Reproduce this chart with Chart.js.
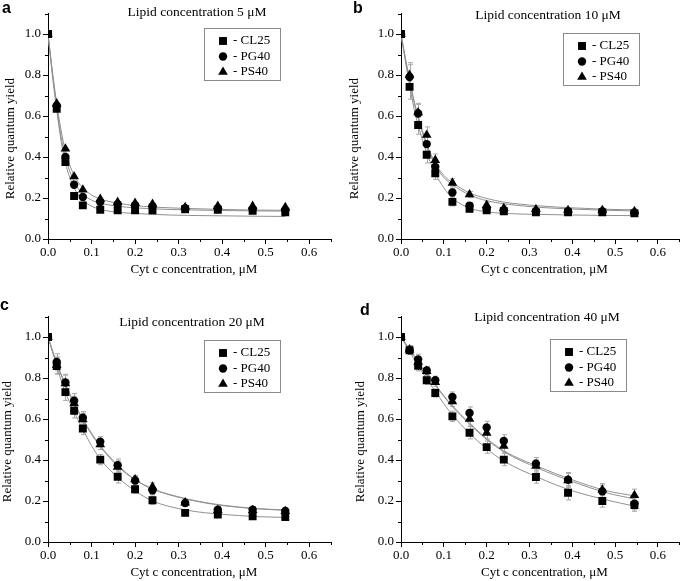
<!DOCTYPE html>
<html><head><meta charset="utf-8">
<script src="https://cdn.jsdelivr.net/npm/chart.js@4.4.0/dist/chart.umd.min.js"></script>
<style>
html,body{margin:0;padding:0;background:#fff;overflow:hidden;width:685px;height:581px}
canvas{position:absolute}
</style></head><body>
<canvas id="pa" width="342" height="290" style="left:0px;top:0px"></canvas>
<canvas id="pb" width="343" height="290" style="left:342px;top:0px"></canvas>
<canvas id="pc" width="342" height="292" style="left:0px;top:290px"></canvas>
<canvas id="pd" width="343" height="292" style="left:342px;top:290px"></canvas>
<script>
// ---------- data ----------
const cytC = [0, 0.02, 0.04, 0.06, 0.08, 0.12, 0.16, 0.20, 0.24, 0.315, 0.39, 0.47, 0.545];
const fitX = [0, 0.01, 0.02, 0.03, 0.04, 0.06, 0.08, 0.10, 0.12, 0.16, 0.20, 0.24, 0.32, 0.40, 0.48, 0.545];
const seriesNames = ['- CL25', '- PG40', '- PS40'];
const panelLetters = ['a', 'b', 'c', 'd'];
const panelTitles = ['Lipid concentration 5 \u03bcM', 'Lipid concentration 10 \u03bcM', 'Lipid concentration 20 \u03bcM', 'Lipid concentration 40 \u03bcM'];
const xAxisTitle = 'Cyt c concentration, \u03bcM';
const yAxisTitle = 'Relative quantum yield';
const xTickValues = [0, 0.1, 0.2, 0.3, 0.4, 0.5, 0.6];
const yTickValues = [0, 0.2, 0.4, 0.6, 0.8, 1.0];
const xMinorValues = [0.05, 0.15, 0.25, 0.35, 0.45, 0.55, 0.65];
const yMinorValues = [0.1, 0.3, 0.5, 0.7, 0.9, 1.1];

// Panel a: lipid 5 uM
const cl25_5 = [1.0, 0.635, 0.376, 0.21, 0.164, 0.143, 0.14, 0.14, 0.14, 0.145, 0.142, 0.138, 0.13];
const pg40_5 = [1.0, 0.65, 0.40, 0.265, 0.205, 0.18, 0.17, 0.165, 0.16, 0.15, 0.15, 0.146, 0.14];
const ps40_5 = [1.0, 0.66, 0.44, 0.305, 0.24, 0.195, 0.18, 0.175, 0.17, 0.155, 0.16, 0.16, 0.155];
const fitCL_5 = [1.0, 0.80, 0.63, 0.48, 0.37, 0.25, 0.19, 0.16, 0.145, 0.13, 0.125, 0.12, 0.115, 0.113, 0.111, 0.11];
const fitPG_5 = [1.0, 0.81, 0.645, 0.50, 0.40, 0.28, 0.22, 0.19, 0.175, 0.16, 0.152, 0.147, 0.142, 0.139, 0.137, 0.136];
const fitPS_5 = [1.0, 0.82, 0.66, 0.53, 0.43, 0.31, 0.25, 0.215, 0.195, 0.175, 0.163, 0.156, 0.149, 0.144, 0.141, 0.14];
const err_5 = [0, 0, 0, 0, 0, 0, 0, 0, 0, 0, 0, 0, 0];

// Panel b: lipid 10 uM
const cl25_10 = [1.0, 0.742, 0.556, 0.411, 0.321, 0.181, 0.147, 0.14, 0.135, 0.13, 0.13, 0.13, 0.125];
const pg40_10 = [1.0, 0.79, 0.612, 0.463, 0.352, 0.227, 0.163, 0.147, 0.14, 0.135, 0.135, 0.135, 0.13];
const ps40_10 = [1.0, 0.80, 0.617, 0.507, 0.385, 0.274, 0.217, 0.165, 0.15, 0.145, 0.14, 0.14, 0.135];
const fitCL_10 = [1.0, 0.87, 0.75, 0.64, 0.555, 0.42, 0.32, 0.25, 0.20, 0.15, 0.133, 0.125, 0.12, 0.117, 0.115, 0.114];
const fitPG_10 = [1.0, 0.88, 0.77, 0.67, 0.59, 0.455, 0.36, 0.30, 0.265, 0.215, 0.187, 0.172, 0.155, 0.146, 0.14, 0.137];
const fitPS_10 = [1.0, 0.885, 0.78, 0.68, 0.60, 0.465, 0.37, 0.31, 0.275, 0.225, 0.198, 0.18, 0.162, 0.152, 0.145, 0.142];
const err_10 = [0, 0.06, 0.045, 0.04, 0.03, 0.02, 0.015, 0.015, 0.015, 0.01, 0.01, 0.01, 0.01];

// Panel c: lipid 20 uM
const cl25_20 = [1.0, 0.858, 0.731, 0.64, 0.554, 0.402, 0.318, 0.257, 0.204, 0.142, 0.134, 0.125, 0.122];
const pg40_20 = [1.0, 0.878, 0.778, 0.689, 0.606, 0.489, 0.375, 0.30, 0.252, 0.19, 0.158, 0.158, 0.151];
const ps40_20 = [1.0, 0.863, 0.774, 0.676, 0.598, 0.476, 0.366, 0.305, 0.269, 0.192, 0.155, 0.155, 0.15];
const fitCL_20 = [1.0, 0.93, 0.86, 0.79, 0.73, 0.635, 0.55, 0.47, 0.405, 0.315, 0.25, 0.20, 0.155, 0.135, 0.124, 0.12];
const fitPG_20 = [1.0, 0.935, 0.875, 0.82, 0.77, 0.68, 0.60, 0.53, 0.47, 0.375, 0.305, 0.26, 0.21, 0.18, 0.163, 0.156];
const fitPS_20 = [1.0, 0.935, 0.87, 0.815, 0.765, 0.675, 0.595, 0.525, 0.465, 0.37, 0.303, 0.258, 0.208, 0.178, 0.162, 0.155];
const err_20 = [0, 0.04, 0.04, 0.035, 0.03, 0.025, 0.03, 0.02, 0.02, 0.015, 0.015, 0.015, 0.015];

// Panel d: lipid 40 uM
const cl25_40 = [1.0, 0.935, 0.86, 0.789, 0.727, 0.613, 0.533, 0.463, 0.402, 0.317, 0.24, 0.20, 0.18];
const pg40_40 = [1.0, 0.935, 0.891, 0.837, 0.789, 0.707, 0.629, 0.559, 0.493, 0.382, 0.304, 0.247, 0.187];
const ps40_40 = [1.0, 0.938, 0.878, 0.833, 0.78, 0.686, 0.60, 0.532, 0.468, 0.371, 0.30, 0.255, 0.228];
const fitCL_40 = [1.0, 0.965, 0.93, 0.895, 0.86, 0.795, 0.735, 0.675, 0.62, 0.53, 0.455, 0.395, 0.315, 0.25, 0.205, 0.175];
const fitPG_40 = [1.0, 0.97, 0.94, 0.91, 0.875, 0.82, 0.765, 0.71, 0.66, 0.575, 0.50, 0.44, 0.36, 0.295, 0.24, 0.21];
const fitPS_40 = [1.0, 0.97, 0.94, 0.91, 0.877, 0.822, 0.768, 0.713, 0.665, 0.58, 0.505, 0.445, 0.368, 0.303, 0.25, 0.225];
const err_40 = [0, 0.02, 0.025, 0.02, 0.02, 0.025, 0.03, 0.03, 0.03, 0.03, 0.035, 0.03, 0.03];

// ---------- styling / layout ----------
const SERIF = "'Liberation Serif', 'Times New Roman', serif";
const markerStyles = [
  {pointStyle: 'rect', radius: 5.6},
  {pointStyle: 'circle', radius: 4.2},
  {pointStyle: 'triangle', radius: 5.6}
];
const panels = [
  {canvas: 'pa', series: [cl25_5, pg40_5, ps40_5], fits: [fitCL_5, fitPG_5, fitPS_5], err: err_5,
   axisLeft: 48, pad: {left: 0, right: 11, top: 13.5, bottom: 11},
   letter: [2, 9], title: [197, 12], yTitleX: 11, legend: [204, 28]},
  {canvas: 'pb', series: [cl25_10, pg40_10, ps40_10], fits: [fitCL_10, fitPG_10, fitPS_10], err: err_10,
   axisLeft: 59, pad: {left: 0, right: 2, top: 13.5, bottom: 11},
   letter: [11, 9], title: [206, 15], yTitleX: 13, legend: [221, 33]},
  {canvas: 'pc', series: [cl25_20, pg40_20, ps40_20], fits: [fitCL_20, fitPG_20, fitPS_20], err: err_20,
   axisLeft: 48, pad: {left: 0, right: 11, top: 26.5, bottom: 0},
   letter: [0, 16], title: [192, 32], yTitleX: 8, legend: [204, 50]},
  {canvas: 'pd', series: [cl25_40, pg40_40, ps40_40], fits: [fitCL_40, fitPG_40, fitPS_40], err: err_40,
   axisLeft: 59, pad: {left: 0, right: 2, top: 26.5, bottom: 0},
   letter: [18, 21], title: [205, 27], yTitleX: 19, legend: [208, 49]}
];

const annotPlugin = {
  id: 'annot',
  beforeDatasetsDraw(chart, args, o) {
    const ctx = chart.ctx, xs = chart.scales.x, ys = chart.scales.y;
    ctx.save();
    ctx.strokeStyle = '#a8a8a8';
    ctx.lineWidth = 1;
    o.series.forEach(vals => {
      vals.forEach((v, i) => {
        const e = o.err[i];
        if (!e) return;
        const px = Math.round(xs.getPixelForValue(cytC[i])) + 0.5;
        const y1 = ys.getPixelForValue(v - e), y2 = ys.getPixelForValue(v + e);
        ctx.beginPath();
        ctx.moveTo(px, y1); ctx.lineTo(px, y2);
        ctx.moveTo(px - 2.5, y1); ctx.lineTo(px + 2.5, y1);
        ctx.moveTo(px - 2.5, y2); ctx.lineTo(px + 2.5, y2);
        ctx.stroke();
      });
    });
    ctx.restore();
  },
  afterDraw(chart, args, o) {
    const ctx = chart.ctx, xs = chart.scales.x, ys = chart.scales.y, ca = chart.chartArea;
    ctx.save();
    // minor ticks
    ctx.strokeStyle = '#000';
    ctx.lineWidth = 1;
    ctx.beginPath();
    xMinorValues.forEach(v => {
      const px = Math.round(xs.getPixelForValue(v)) + 0.5;
      ctx.moveTo(px, ca.bottom); ctx.lineTo(px, ca.bottom + 3);
    });
    yMinorValues.forEach(v => {
      const py = Math.round(ys.getPixelForValue(v)) + 0.5;
      ctx.moveTo(ca.left - 3, py); ctx.lineTo(ca.left, py);
    });
    ctx.stroke();
    // panel letter
    ctx.fillStyle = '#000';
    ctx.font = "bold 16px 'Liberation Sans', Arial, sans-serif";
    ctx.textAlign = 'left'; ctx.textBaseline = 'middle';
    ctx.fillText(o.letter, o.letterPos[0], o.letterPos[1]);
    // panel title
    ctx.font = '13.5px ' + SERIF;
    ctx.textAlign = 'center';
    ctx.fillText(o.title, o.titlePos[0], o.titlePos[1]);
    // axis titles
    ctx.font = '13px ' + SERIF;
    ctx.fillText(xAxisTitle, xs.getPixelForValue(0.335), ca.bottom + 31);
    ctx.save();
    ctx.translate(o.yTitleX, ys.getPixelForValue(0.49));
    ctx.rotate(-Math.PI / 2);
    ctx.fillText(yAxisTitle, 0, 0);
    ctx.restore();
    // legend
    const [lx, ly] = o.legendPos;
    ctx.strokeStyle = '#8a8a8a';
    ctx.strokeRect(lx + 0.5, ly + 0.5, 76, 52);
    ctx.font = '13px ' + SERIF;
    ctx.textAlign = 'left';
    seriesNames.forEach((name, i) => {
      const ry = ly + 13 + 15.5 * i;
      ctx.fillStyle = '#000'; ctx.strokeStyle = '#000';
      Chart.helpers.drawPoint(ctx, {pointStyle: markerStyles[i].pointStyle, radius: markerStyles[i].radius, rotation: 0, borderWidth: 0}, lx + 19, ry);
      ctx.fillStyle = '#000';
      ctx.fillText(name, lx + 29, ry);
    });
    ctx.restore();
  }
};

panels.forEach((p, k) => {
  const datasets = [];
  p.series.forEach((vals, i) => {
    datasets.push({
      label: seriesNames[i],
      data: cytC.map((x, j) => ({x: x, y: vals[j]})),
      showLine: false,
      pointStyle: markerStyles[i].pointStyle,
      pointRadius: markerStyles[i].radius,
      pointHoverRadius: markerStyles[i].radius,
      pointBorderWidth: 0,
      backgroundColor: '#000',
      borderColor: '#000',
      order: 1
    });
  });
  p.fits.forEach((vals, i) => {
    datasets.push({
      label: 'fit ' + seriesNames[i],
      data: fitX.map((x, j) => ({x: x, y: vals[j]})),
      showLine: true,
      pointRadius: 0,
      borderColor: '#909090',
      borderWidth: 1,
      cubicInterpolationMode: 'monotone',
      fill: false,
      order: 5
    });
  });
  new Chart(document.getElementById(p.canvas), {
    type: 'scatter',
    data: {datasets},
    plugins: [annotPlugin],
    options: {
      responsive: false,
      animation: false,
      devicePixelRatio: 1,
      layout: {padding: p.pad},
      plugins: {
        legend: {display: false},
        tooltip: {enabled: false},
        annot: {
          series: p.series, err: p.err,
          letter: panelLetters[k], letterPos: p.letter,
          title: panelTitles[k], titlePos: p.title,
          yTitleX: p.yTitleX, legendPos: p.legend
        }
      },
      scales: {
        x: {
          type: 'linear', min: 0, max: 0.65,
          afterBuildTicks: s => { s.ticks = xTickValues.map(v => ({value: v})); },
          afterFit: s => { s.height = 40; },
          ticks: {callback: v => Number(v).toFixed(1), color: '#000', font: {family: SERIF, size: 13}, padding: 1, maxRotation: 0, autoSkip: false},
          grid: {drawOnChartArea: false, drawTicks: true, tickLength: 5, color: '#000'},
          border: {display: true, color: '#000', width: 1}
        },
        y: {
          type: 'linear', min: 0, max: 1.1,
          afterBuildTicks: s => { s.ticks = yTickValues.map(v => ({value: v})); },
          afterFit: s => { s.width = p.axisLeft; },
          ticks: {callback: v => Number(v).toFixed(1), color: '#000', font: {family: SERIF, size: 13}, padding: 2, autoSkip: false},
          grid: {drawOnChartArea: false, drawTicks: true, tickLength: 5, color: '#000'},
          border: {display: true, color: '#000', width: 1}
        }
      }
    }
  });
});
</script>
</body></html>
